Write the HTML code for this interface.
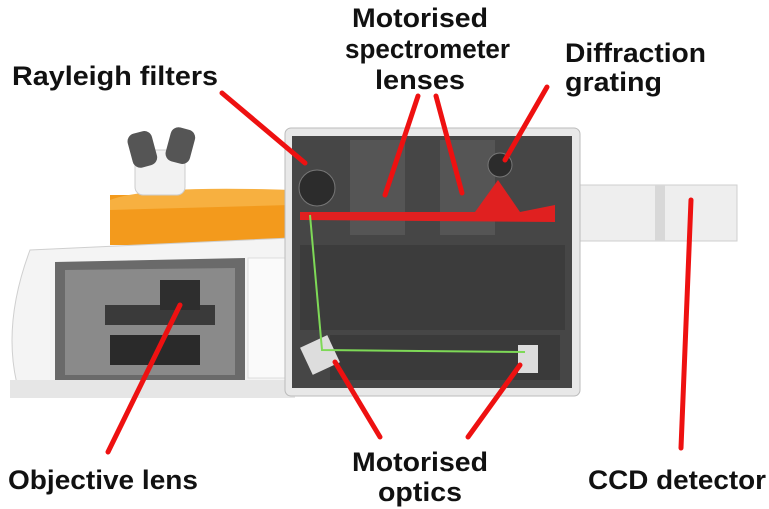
<!DOCTYPE html>
<html><head><meta charset="utf-8"><style>
html,body{margin:0;padding:0;background:#fff;width:769px;height:509px;overflow:hidden}
svg{display:block}
.lbl{font-family:"Liberation Sans",Arial,sans-serif;font-weight:bold;font-size:27px;fill:#111}
</style></head><body>
<svg width="769" height="509" viewBox="0 0 769 509">
<g>
<rect x="575" y="185" width="162" height="56" fill="#eeeeee" stroke="#cfcfcf"/>
<rect x="655" y="185" width="10" height="56" fill="#d8d8d8"/>
</g>
<g>
<path d="M110 195 L290 195 L290 245 L110 245 Z" fill="#f39a1c"/>
<path d="M110 200 Q150 185 290 190 L290 205 L110 210Z" fill="#f7b040"/>
<rect x="135" y="150" width="50" height="45" rx="8" fill="#f2f2f2" stroke="#ccc"/>
<rect x="130" y="132" width="25" height="35" rx="8" fill="#555" transform="rotate(-15 142 150)"/>
<rect x="168" y="128" width="25" height="35" rx="8" fill="#555" transform="rotate(15 180 145)"/>
<path d="M30 250 L290 238 L290 395 L20 395 Q0 330 30 250Z" fill="#f4f4f4" stroke="#cfcfcf"/>
<path d="M55 262 L245 258 L245 380 L55 380Z" fill="#6a6a6a"/>
<path d="M65 270 L235 268 L235 375 L65 375Z" fill="#8a8a8a"/>
<rect x="105" y="305" width="110" height="20" fill="#3a3a3a"/>
<rect x="160" y="280" width="40" height="30" fill="#2e2e2e"/>
<rect x="110" y="335" width="90" height="30" fill="#2a2a2a"/>
<rect x="248" y="258" width="42" height="120" fill="#fafafa" stroke="#ddd"/>
<rect x="10" y="380" width="285" height="18" fill="#e6e6e6"/>
</g>
<g>
<rect x="285" y="128" width="295" height="268" rx="6" fill="#e8e8e8" stroke="#bbb"/>
<rect x="292" y="136" width="280" height="252" fill="#464646"/>
<rect x="300" y="245" width="265" height="85" fill="#3c3c3c"/>
<rect x="350" y="140" width="55" height="95" fill="#555"/>
<rect x="440" y="140" width="55" height="95" fill="#555"/>
<circle cx="317" cy="188" r="18" fill="#2c2c2c" stroke="#777"/>
<circle cx="500" cy="165" r="12" fill="#2c2c2c" stroke="#777"/>
<rect x="330" y="335" width="230" height="45" fill="#3a3a3a"/>
<rect x="305" y="340" width="30" height="30" fill="#ddd" transform="rotate(-25 320 355)"/>
<rect x="518" y="345" width="20" height="28" fill="#ddd"/>
<path d="M300 212 L475 212 L498 180 L520 212 L555 205 L555 222 L300 220Z" fill="#e02020"/>
<path d="M310 215 L322 350 L525 352" stroke="#7ed957" stroke-width="2" fill="none"/>
</g>
<g stroke="#ee1111" stroke-width="5" stroke-linecap="round">
<line x1="222" y1="93" x2="305" y2="163"/>
<line x1="418" y1="96" x2="385" y2="195"/>
<line x1="436" y1="96" x2="462" y2="193"/>
<line x1="547" y1="87" x2="505" y2="160"/>
<line x1="380" y1="437" x2="335" y2="362"/>
<line x1="468" y1="437" x2="520" y2="365"/>
<line x1="681" y1="448" x2="691" y2="200"/>
<line x1="108" y1="452" x2="180" y2="305"/>
</g>
<text class="lbl" x="12" y="85" textLength="206" lengthAdjust="spacingAndGlyphs">Rayleigh filters</text>
<text class="lbl" x="352" y="27" textLength="136" lengthAdjust="spacingAndGlyphs">Motorised</text>
<text class="lbl" x="345" y="58" textLength="165" lengthAdjust="spacingAndGlyphs">spectrometer</text>
<text class="lbl" x="375" y="89" textLength="90" lengthAdjust="spacingAndGlyphs">lenses</text>
<text class="lbl" x="565" y="62" textLength="141" lengthAdjust="spacingAndGlyphs">Diffraction</text>
<text class="lbl" x="565" y="91" textLength="97" lengthAdjust="spacingAndGlyphs">grating</text>
<text class="lbl" x="8" y="489" textLength="190" lengthAdjust="spacingAndGlyphs">Objective lens</text>
<text class="lbl" x="352" y="471" textLength="136" lengthAdjust="spacingAndGlyphs">Motorised</text>
<text class="lbl" x="378" y="501" textLength="84" lengthAdjust="spacingAndGlyphs">optics</text>
<text class="lbl" x="588" y="489" textLength="178" lengthAdjust="spacingAndGlyphs">CCD detector</text>
</svg>
</body></html>
